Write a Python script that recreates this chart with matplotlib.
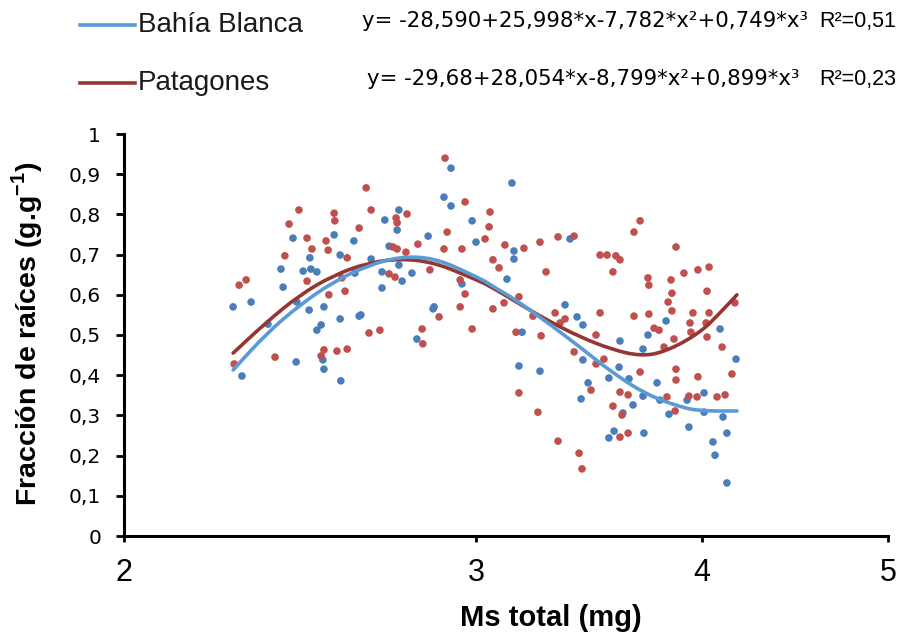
import numpy as np
import matplotlib
matplotlib.use("Agg")
import matplotlib.pyplot as plt
from matplotlib.path import Path
from matplotlib.patches import PathPatch

# ---------------- data ----------------
bb_x = [2.310, 2.361, 2.335, 2.480, 2.446, 2.452, 2.509, 2.528, 2.531, 2.548,
        2.597, 2.614, 2.653, 2.656, 2.491, 2.526, 2.568, 2.560, 2.548, 2.614,
        2.668, 2.489, 2.568, 2.565, 2.616, 2.409, 2.702, 2.741, 2.781, 2.776,
        2.753, 2.781, 2.733, 2.733, 2.790, 2.818, 2.864, 2.909, 2.929, 2.929,
        2.989, 3.000, 2.960, 2.878, 2.881, 2.673, 2.832, 3.159, 3.168, 3.168,
        3.137, 3.204, 3.190, 3.283, 3.394, 3.416, 3.447, 3.473, 3.465, 3.473,
        3.496, 3.588, 3.633, 3.637, 3.588, 3.611, 3.650, 3.677, 3.695, 3.739,
        3.743, 3.739, 3.761, 3.801, 3.814, 3.841, 3.854, 3.934, 3.942, 4.011,
        4.011, 4.059, 4.070, 4.097, 4.113, 4.134, 4.134, 4.183]
bb_y = [0.570, 0.582, 0.398, 0.741, 0.664, 0.619, 0.659, 0.692, 0.664, 0.657,
        0.749, 0.699, 0.734, 0.654, 0.582, 0.562, 0.570, 0.525, 0.512, 0.540,
        0.547, 0.433, 0.415, 0.438, 0.386, 0.527, 0.689, 0.786, 0.811, 0.761,
        0.721, 0.674, 0.657, 0.617, 0.634, 0.654, 0.746, 0.843, 0.915, 0.821,
        0.784, 0.731, 0.627, 0.565, 0.570, 0.550, 0.490, 0.878, 0.709, 0.689,
        0.639, 0.507, 0.423, 0.410, 0.575, 0.739, 0.545, 0.525, 0.341, 0.438,
        0.381, 0.393, 0.420, 0.485, 0.244, 0.261, 0.306, 0.391, 0.326, 0.348,
        0.256, 0.465, 0.500, 0.381, 0.338, 0.535, 0.303, 0.338, 0.271, 0.356,
        0.308, 0.234, 0.201, 0.515, 0.296, 0.256, 0.132, 0.440]

pa_x = [2.327, 2.347, 2.313, 2.429, 2.457, 2.469, 2.497, 2.520, 2.534, 2.520,
        2.574, 2.580, 2.597, 2.599, 2.634, 2.619, 2.628, 2.582, 2.668, 2.568,
        2.560, 2.605, 2.634, 2.688, 2.702, 2.773, 2.776, 2.804, 2.764, 2.776,
        2.801, 2.835, 2.869, 2.753, 2.770, 2.912, 2.969, 2.918, 2.909, 2.960,
        3.062, 3.058, 3.040, 3.075, 3.102, 2.955, 2.969, 2.955, 2.895, 3.075,
        2.847, 2.849, 2.989, 2.696, 2.727, 3.128, 3.124, 3.212, 3.283, 3.310,
        3.190, 3.177, 3.252, 3.288, 3.190, 3.274, 3.363, 3.434, 3.350, 3.372,
        3.394, 3.434, 3.363, 3.456, 3.469, 3.531, 3.549, 3.549, 3.580, 3.606,
        3.619, 3.637, 3.509, 3.531, 3.566, 3.606, 3.637, 3.673, 3.646, 3.637,
        3.673, 3.699, 3.726, 3.699, 3.726, 3.761, 3.765, 3.765, 3.788, 3.810,
        3.832, 3.845, 3.881, 3.863, 3.867, 3.850, 3.867, 3.876, 3.885, 3.885,
        3.885, 3.920, 3.947, 3.951, 3.960, 3.942, 3.978, 3.982, 3.982, 4.027,
        4.022, 4.027, 4.038, 4.038, 4.081, 4.124, 4.108, 4.161, 4.177]
pa_y = [0.624, 0.637, 0.428, 0.445, 0.697, 0.776, 0.811, 0.741, 0.714, 0.634,
        0.734, 0.711, 0.803, 0.784, 0.692, 0.642, 0.609, 0.600, 0.766, 0.463,
        0.448, 0.460, 0.465, 0.866, 0.811, 0.791, 0.779, 0.801, 0.719, 0.714,
        0.706, 0.726, 0.662, 0.652, 0.644, 0.940, 0.831, 0.756, 0.714, 0.714,
        0.806, 0.769, 0.739, 0.687, 0.667, 0.637, 0.602, 0.570, 0.545, 0.565,
        0.515, 0.478, 0.515, 0.505, 0.512, 0.724, 0.580, 0.716, 0.731, 0.657,
        0.595, 0.507, 0.547, 0.498, 0.356, 0.308, 0.744, 0.746, 0.555, 0.530,
        0.540, 0.458, 0.236, 0.206, 0.167, 0.500, 0.555, 0.699, 0.699, 0.657,
        0.697, 0.687, 0.363, 0.428, 0.440, 0.323, 0.358, 0.351, 0.301, 0.246,
        0.256, 0.756, 0.784, 0.547, 0.408, 0.642, 0.624, 0.552, 0.517, 0.512,
        0.470, 0.346, 0.311, 0.637, 0.604, 0.582, 0.560, 0.490, 0.719, 0.415,
        0.388, 0.654, 0.530, 0.507, 0.555, 0.348, 0.346, 0.662, 0.396, 0.609,
        0.530, 0.495, 0.555, 0.669, 0.346, 0.351, 0.470, 0.403, 0.580]

# trendlines
bb_fit_x = [2.310, 2.406, 2.500, 2.594, 2.690, 2.784, 2.878, 2.974, 3.106,
            3.164, 3.314, 3.460, 3.606, 3.757, 3.903, 3.991, 4.188]
bb_fit_y = [0.413, 0.505, 0.575, 0.632, 0.672, 0.695, 0.692, 0.657, 0.610,
            0.592, 0.532, 0.470, 0.405, 0.351, 0.321, 0.311, 0.311]
pa_fit_x = [2.310, 2.406, 2.500, 2.594, 2.690, 2.784, 2.878, 2.974, 3.106,
            3.164, 3.314, 3.460, 3.606, 3.726, 3.827, 3.978, 4.097, 4.188]
pa_fit_y = [0.455, 0.533, 0.600, 0.648, 0.679, 0.690, 0.681, 0.648, 0.607,
            0.587, 0.537, 0.495, 0.463, 0.448, 0.456, 0.500, 0.555, 0.600]

series_names = ["Bahía Blanca", "Patagones"]
equations = ["y= -28,590+25,998*x-7,782*x²+0,749*x³",
             "y= -29,68+28,054*x-8,799*x²+0,899*x³"]
r2_texts = ["R²=0,51", "R²=0,23"]

x_ticks = [2, 3, 4, 5]
y_ticks = [0, 0.1, 0.2, 0.3, 0.4, 0.5, 0.6, 0.7, 0.8, 0.9, 1]
y_ticklabels = ["0", "0,1", "0,2", "0,3", "0,4", "0,5", "0,6", "0,7", "0,8", "0,9", "1"]
x_label = "Ms total (mg)"
y_label = "Fracción de raíces (g.g$^{\\mathbf{-1}}$)"

# ---------------- style ----------------
W, H = 904, 639
fig = plt.figure(figsize=(W / 100, H / 100), dpi=100)
plt.rcParams['mathtext.fontset'] = 'custom'
plt.rcParams['mathtext.rm'] = 'Liberation Sans'
plt.rcParams['mathtext.bf'] = 'Liberation Sans:bold'

ax = fig.add_axes([124 / W, (H - 536) / H, (888 - 124) / W, (536 - 134) / H])

# non-uniform x axis as in the original (tick spacing)
XK = np.array([0.0, 2.0, 3.0, 4.0, 5.0, 10.0])
PK = np.array([-704.0, 0.0, 352.0, 578.0, 764.0, 1694.0])


def fwd(v):
    return np.interp(np.asarray(v, float), XK, PK)


def inv(p):
    return np.interp(np.asarray(p, float), PK, XK)


ax.set_xscale('function', functions=(fwd, inv))

c_bb_pt, c_pa_pt = '#4A7EBB', '#C0504D'
c_bb_ln, c_pa_ln = '#5B9BD5', '#943634'

ax.scatter(bb_x, bb_y, s=30, color=c_bb_pt, edgecolors='none', zorder=2)
ax.scatter(pa_x, pa_y, s=30, color=c_pa_pt, edgecolors='none', zorder=2)


def smooth_path(xs, ys):
    pts = list(zip(xs, ys))
    verts = [pts[0]]
    codes = [Path.MOVETO]
    mid = ((pts[0][0] + pts[1][0]) / 2, (pts[0][1] + pts[1][1]) / 2)
    verts.append(mid)
    codes.append(Path.LINETO)
    for i in range(1, len(pts) - 1):
        nxt = ((pts[i][0] + pts[i + 1][0]) / 2, (pts[i][1] + pts[i + 1][1]) / 2)
        verts += [pts[i], nxt]
        codes += [Path.CURVE3, Path.CURVE3]
    verts.append(pts[-1])
    codes.append(Path.LINETO)
    return Path(verts, codes)


for fx, fy, col in [(pa_fit_x, pa_fit_y, c_pa_ln), (bb_fit_x, bb_fit_y, c_bb_ln)]:
    patch = PathPatch(smooth_path(fx, fy), facecolor='none', edgecolor=col,
                      lw=2.6, capstyle='round', joinstyle='round',
                      transform=ax.transData, zorder=3)
    ax.add_patch(patch)

ax.set_xlim(2, 5)
ax.set_ylim(0, 1)
ax.set_xticks(x_ticks)
ax.set_xticklabels([str(t) for t in x_ticks], fontsize=22, family='Liberation Sans')
ax.set_yticks(y_ticks)
ax.set_yticklabels(y_ticklabels, fontsize=14.5, family='DejaVu Sans')
ax.minorticks_off()

for s in ['top', 'right']:
    ax.spines[s].set_visible(False)
for s in ['left', 'bottom']:
    ax.spines[s].set_linewidth(2.2)
    ax.spines[s].set_color('black')
ax.tick_params(axis='y', direction='out', length=5.5, width=2, pad=11, colors='black')
ax.tick_params(axis='x', direction='out', length=4, width=2, pad=12, colors='black')

# axis labels
fig.text(27 / W, 1 - 334 / H, y_label, rotation=90, ha='center', va='center',
         fontsize=20.5, fontweight='bold', family='Liberation Sans')
fig.text(551 / W, 1 - 618 / H, x_label, ha='center', va='center',
         fontsize=21, fontweight='bold', family='Liberation Sans')

# legend (drawn in figure coordinates)
legend_y = [25, 83]
line_colors = [c_bb_ln, c_pa_ln]
eq_x = [362, 367]
r2_right = [896, 896]
for name, lc, ly, eq, r2, ex, rx in zip(series_names, line_colors, legend_y,
                                       equations, r2_texts, eq_x, r2_right):
    fig.add_artist(plt.Line2D([80 / W, 135 / W], [1 - ly / H, 1 - ly / H],
                              color=lc, lw=2.6, transform=fig.transFigure))
    fig.text(138 / W, 1 - ly / H, name, ha='left', va='center',
             fontsize=20, family='Liberation Sans', color='#1a1a1a')
    fig.text(ex / W, 1 - (ly - 4) / H, eq, ha='left', va='center',
             fontsize=15.3, family='DejaVu Sans', color='black')
    fig.text(rx / W, 1 - (ly - 4) / H, r2, ha='right', va='center',
             fontsize=15.5, family='Liberation Sans', color='black')

fig.savefig('out.png', dpi=100)
